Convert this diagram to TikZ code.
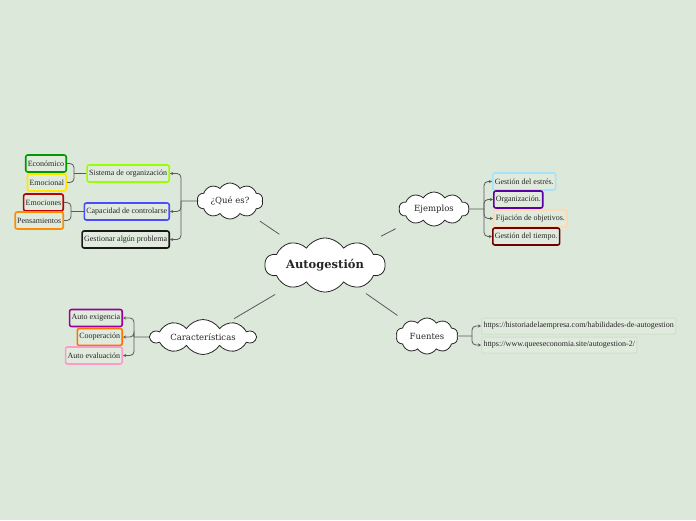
\documentclass[tikz,border=0pt]{standalone}
\usepackage{fontspec}
\setmainfont{Liberation Serif}
\newfontfamily\cloudfont{DejaVu Serif}
\usetikzlibrary{shapes.symbols,arrows.meta}

\definecolor{bgcol}{HTML}{DCE8D9}
\definecolor{boxfill}{HTML}{E0EBDD}
\definecolor{linkcol}{HTML}{5A5A5A}
\definecolor{faint}{HTML}{CFE0CB}

\tikzset{
  idea/.style={cloud, cloud puffs=10, cloud puff arc=115, cloud ignores aspect,
    draw=black!85, fill=white, line width=0.8pt, inner sep=0pt, text=black!85},
  topic/.style={draw, rounded corners=2pt, line width=1.6pt, fill=boxfill,
    font=\fontsize{8}{9}\selectfont, text=black!85, minimum height=17pt,
    inner xsep=2pt, inner ysep=0pt},
  link/.style={draw=linkcol, line width=0.8pt},
  branch/.style={link, rounded corners=4pt, -{Stealth[length=3pt,width=3pt]}},
  fork/.style={link, rounded corners=4pt},
}

\begin{document}
\begin{tikzpicture}[x=1pt,y=-1pt]
  \fill[bgcol] (0,0) rectangle (696,520);

  % clouds
  \node[idea, minimum width=120pt, minimum height=54pt,
    font=\cloudfont\fontsize{11.5}{13}\selectfont\bfseries] (root) at (325,265) {Autogestión};
  \node[idea, minimum width=66pt, minimum height=36pt,
    font=\cloudfont\fontsize{8.5}{10}\selectfont] (que) at (230,201) {¿Qué es?};
  \node[idea, minimum width=70pt, minimum height=34pt,
    font=\cloudfont\fontsize{8.5}{10}\selectfont] (ejem) at (434,209) {Ejemplos};
  \node[idea, minimum width=62pt, minimum height=36pt,
    font=\cloudfont\fontsize{8.5}{10}\selectfont] (fuen) at (427,336) {Fuentes};
  \node[idea, minimum width=105pt, minimum height=35pt,
    font=\cloudfont\fontsize{8.5}{10}\selectfont] (cara) at (203,337) {Características};

  \draw[link, shorten <=55pt, shorten >=36pt] (root.center) -- (que.center);
  \draw[link, shorten <=63pt, shorten >=43pt] (root.center) -- (ejem.center);
  \draw[link, shorten <=50pt, shorten >=36pt] (root.center) -- (fuen.center);
  \draw[link, shorten <=58pt, shorten >=36pt] (root.center) -- (cara.center);

  % ¿Qué es?
  \node[topic, draw=lime!80!green, anchor=east] (sis) at (170,173.5) {Sistema de organización};
  \node[topic, draw=blue!70!white, anchor=east] (cap) at (170,211.5) {Capacidad de controlarse};
  \node[topic, draw=black!90, anchor=east] (ges) at (170,239.5) {Gestionar algún problema};
  \coordinate (qj) at (181,201);
  \draw[link] (que.west) -- (qj);
  \draw[branch] (qj) |- (sis.east);
  \draw[branch] (qj) |- (cap.east);
  \draw[branch] (qj) |- (ges.east);

  \node[topic, draw=green!60!black, anchor=east] (eco) at (67,163.5) {Económico};
  \node[topic, draw=yellow!90!orange, anchor=east] (emo) at (67,182.5) {Emocional};
  \coordinate (sj) at (74,173.5);
  \draw[link] (sis.west) -- (sj);
  \draw[fork] (sj) |- (eco.east);
  \draw[fork] (sj) |- (emo.east);

  \node[topic, draw=red!75!black, anchor=east] (emc) at (64,202.5) {Emociones};
  \node[topic, draw=orange!90!yellow, anchor=east] (pen) at (64,220.5) {Pensamientos};
  \coordinate (kj) at (71,211.5);
  \draw[link] (cap.west) -- (kj);
  \draw[fork] (kj) |- (emc.east);
  \draw[fork] (kj) |- (pen.east);

  % Ejemplos
  \node[topic, draw=cyan!35, anchor=west] (est) at (492,181.5) {Gestión del estrés.};
  \node[topic, draw=violet!70!blue, anchor=west] (org) at (493,199.5) {Organización.};
  \node[topic, draw=orange!30, anchor=west] (fij) at (493,218.5) {Fijación de objetivos.};
  \node[topic, draw=red!45!black, anchor=west] (tie) at (492,236.5) {Gestión del tiempo.};
  \coordinate (ej) at (484,209);
  \draw[link] (ejem.east) -- (ej);
  \draw[branch] (ej) |- (est.west);
  \draw[branch] (ej) |- (org.west);
  \draw[branch] (ej) |- (fij.west);
  \draw[branch] (ej) |- (tie.west);

  % Fuentes
  \node[topic, draw=faint, line width=1pt, minimum height=16pt, anchor=west] (url1) at (481,326) {https://historiadelaempresa.com/habilidades-de-autogestion};
  \node[topic, draw=faint, line width=1pt, minimum height=16pt, anchor=west] (url2) at (481,345) {https://www.queeseconomia.site/autogestion-2/};
  \coordinate (fj) at (472,336);
  \draw[link] (fuen.east) -- (fj);
  \draw[branch] (fj) |- (url1.west);
  \draw[branch] (fj) |- (url2.west);

  % Características
  \node[topic, draw=violet!80!magenta, anchor=east] (exi) at (123,318) {Auto exigencia};
  \node[topic, draw=orange!90!red, anchor=east] (coo) at (123,337) {Cooperación};
  \node[topic, draw=pink!80!magenta, anchor=east] (eva) at (123,355.5) {Auto evaluación};
  \coordinate (cj) at (134,337);
  \draw[link] (cara.west) -- (cj);
  \draw[branch] (cj) |- (exi.east);
  \draw[branch] (cj) |- (coo.east);
  \draw[branch] (cj) |- (eva.east);
\end{tikzpicture}
\end{document}
